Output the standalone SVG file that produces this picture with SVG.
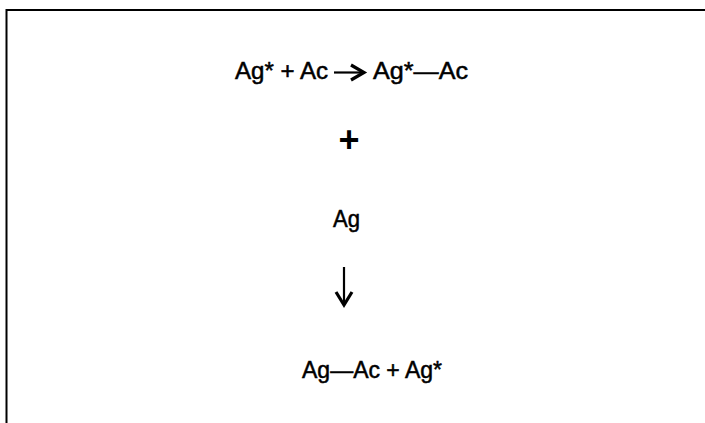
<svg xmlns="http://www.w3.org/2000/svg" width="705" height="423" viewBox="0 0 705 423">
  <style>
    .t { font-family: "Liberation Sans", Arial, sans-serif; font-size: 23px; fill: #000; stroke: #000; stroke-width: 0.5; }
    .plus { font-family: "Liberation Sans", Arial, sans-serif; font-size: 36px; font-weight: bold; fill: #000; }
    .frame { fill: none; stroke: #000; stroke-width: 2; }
    .shaft { fill: none; stroke: #000; stroke-width: 2.2; }
    .head { fill: none; stroke: #000; stroke-width: 3.2; stroke-linecap: butt; stroke-linejoin: miter; }
  </style>
  <rect width="705" height="423" fill="#fff"/>
  <path class="frame" d="M6.5,423 V10 H705"/>

  <g id="reaction1">
    <text class="t" x="235" y="79" textLength="93" lengthAdjust="spacingAndGlyphs">Ag* + Ac</text>
    <text class="t" x="373" y="79" textLength="95" lengthAdjust="spacingAndGlyphs">Ag*—Ac</text>
  </g>
  <g id="plus">
    <text class="plus" x="349" y="152" text-anchor="middle">+</text>
  </g>
  <g id="ag">
    <text class="t" x="333" y="227" textLength="27" lengthAdjust="spacingAndGlyphs">Ag</text>
  </g>
  <g id="product">
    <text class="t" x="302" y="378" textLength="140" lengthAdjust="spacingAndGlyphs">Ag—Ac + Ag*</text>
  </g>

  <g id="connectors">
    <line class="shaft" x1="334" y1="72.5" x2="363" y2="72.5"/>
    <polyline class="head" points="351,65 364,72.5 351,80"/>
    <line class="shaft" x1="344" y1="267" x2="344" y2="304"/>
    <polyline class="head" points="336,292 344,305 352,292"/>
  </g>
</svg>
